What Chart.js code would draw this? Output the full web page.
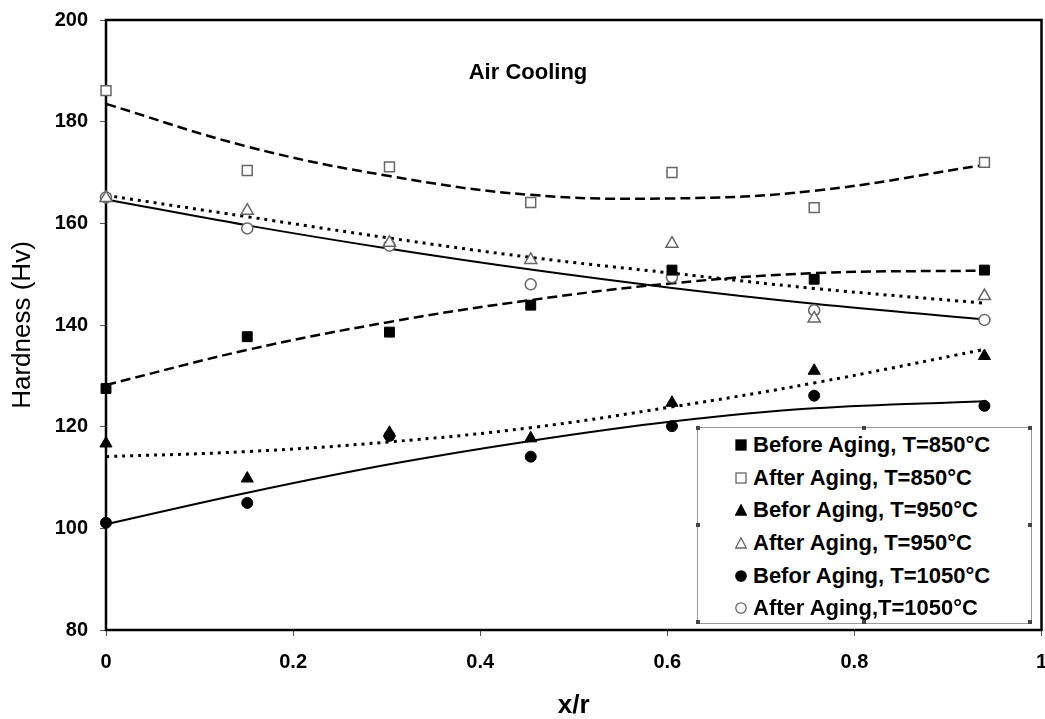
<!DOCTYPE html>
<html>
<head>
<meta charset="utf-8">
<script src="https://cdn.jsdelivr.net/npm/chart.js@4/dist/chart.umd.min.js"></script>
<style>
  html, body { margin: 0; padding: 0; background: #fff; }
  #wrap { position: relative; width: 1045px; height: 719px; overflow: hidden;
          font-family: 'Liberation Sans', Arial, sans-serif; }
  #box { position: absolute; left: 0; top: 0; width: 1050px; height: 719px; }
  #note { position: absolute; left: 400px; top: 61px; width: 256px; text-align: center;
          font-weight: bold; font-size: 22px; line-height: 22px; color: #000; }
  #legend { position: absolute; left: 697px; top: 427px; width: 335px; height: 197px;
            border: 1.5px solid #9a9a9a; box-sizing: border-box; background: #fff; }
  .handle { position: absolute; width: 4px; height: 4px; background: #444; }
  .row { position: absolute; left: 0; height: 32.6px; line-height: 32.6px; white-space: nowrap;
         font-weight: bold; font-size: 22px; color: #000; }
  .row svg { position: absolute; left: 37px; top: 10px; }
  .row span { position: absolute; left: 55px; }
</style>
</head>
<body>
<div id="wrap">
  <div id="box"><canvas id="chart"></canvas></div>
  <div id="note">Air Cooling</div>
  <div id="legend"></div>
</div>
<script>
const xr = [0, 0.151, 0.303, 0.454, 0.605, 0.757, 0.939];
const xTicks = [0, 0.2, 0.4, 0.6, 0.8, 1];
const yTicks = [80, 100, 120, 140, 160, 180, 200];

// measured hardness
const before850 = [127.5, 137.7, 138.6, 143.9, 150.8, 149.0, 150.8];
const after850 = [186.1, 170.4, 171.1, 164.1, 170.0, 163.1, 172.0];
const before950 = [116.7, 109.8, 118.8, 117.7, 124.7, 131.0, 133.9];
const after950 = [165.0, 162.5, 156.2, 152.8, 156.0, 141.3, 145.7];
const before1050 = [101.1, 105.0, 118.2, 114.1, 120.1, 126.1, 124.1];
const after1050 = [165.1, 159.0, 155.6, 148.0, 149.4, 142.9, 141.0];

// trend lines at the same x/r
const trendBefore850 = [128.2, 135.1, 140.6, 144.9, 148.2, 150.2, 150.7];
const trendAfter850 = [183.5, 175.1, 169.3, 165.6, 164.9, 166.4, 171.5];
const trendBefore950 = [114.1, 115.1, 117.0, 119.8, 123.9, 128.6, 135.2];
const trendAfter950 = [165.5, 161.3, 157.1, 153.3, 150.2, 147.2, 144.3];
const trendBefore1050 = [100.8, 107.0, 112.6, 117.2, 121.0, 123.6, 125.0];
const trendAfter1050 = [164.7, 159.6, 155.0, 150.9, 147.3, 144.2, 141.1];

const seriesNames = [
  'Before Aging, T=850°C',
  'After Aging, T=850°C',
  'Befor Aging, T=950°C',
  'After Aging, T=950°C',
  'Befor Aging, T=1050°C',
  'After Aging,T=1050°C'
];

const pts = ys => ys.map((y, i) => ({ x: xr[i], y: y }));

const markers = [
  { style: 'rect', r: 7, fill: '#000', stroke: '#000' },
  { style: 'rect', r: 7, fill: '#fff', stroke: '#666' },
  { style: 'triangle', r: 7, fill: '#000', stroke: '#000' },
  { style: 'triangle', r: 7, fill: '#fff', stroke: '#666' },
  { style: 'circle', r: 5.5, fill: '#000', stroke: '#000' },
  { style: 'circle', r: 5.5, fill: '#fff', stroke: '#666' }
];
const values = [before850, after850, before950, after950, before1050, after1050];
const trends = [trendBefore850, trendAfter850, trendBefore950, trendAfter950, trendBefore1050, trendAfter1050];
const dashes = [[10, 5], [10, 5], [3, 5], [3, 5], [], []];
const widths = [2.5, 2.5, 3, 3, 2, 2];

const datasets = [];
trends.forEach((t, i) => {
  datasets.push({
    label: seriesNames[i] + ' trend',
    data: pts(t),
    showLine: true,
    tension: 0.4,
    borderColor: '#000',
    borderWidth: widths[i],
    borderDash: dashes[i],
    pointRadius: 0,
    clip: false,
    order: 1
  });
});
values.forEach((v, i) => {
  const m = markers[i];
  datasets.push({
    label: seriesNames[i],
    data: pts(v),
    pointStyle: m.style,
    pointRadius: m.r,
    pointBackgroundColor: m.fill,
    pointBorderColor: m.stroke,
    pointBorderWidth: m.fill === '#fff' ? 1.5 : 1,
    clip: false,
    order: 0
  });
});

// plot frame on all four sides
const frame = {
  id: 'frame',
  beforeDatasetsDraw(chart) {
    const a = chart.chartArea, ctx = chart.ctx;
    ctx.save();
    ctx.strokeStyle = '#000';
    ctx.lineWidth = 2.5;
    ctx.strokeRect(a.left, a.top, a.right - a.left, a.bottom - a.top);
    ctx.restore();
  }
};

Chart.defaults.font.family = "'Liberation Sans', Arial, sans-serif";
Chart.defaults.color = '#000';

new Chart(document.getElementById('chart'), {
  type: 'scatter',
  data: { datasets: datasets },
  plugins: [frame],
  options: {
    responsive: true,
    maintainAspectRatio: false,
    animation: false,
    layout: { padding: { top: 20, right: 7, left: 0, bottom: 0 } },
    plugins: { legend: { display: false }, tooltip: { enabled: false } },
    scales: {
      x: {
        type: 'linear',
        min: xTicks[0],
        max: xTicks[xTicks.length - 1],
        afterBuildTicks: s => { s.ticks = xTicks.map(v => ({ value: v })); },
        afterFit: s => { s.height = 89; s.paddingLeft = 0; s.paddingRight = 0; },
        grid: { drawOnChartArea: false, tickLength: 6, color: '#555', lineWidth: 1 },
        border: { display: false },
        ticks: {
          font: { size: 20, weight: 'bold' },
          padding: 14,
          maxRotation: 0,
          callback: v => String(Math.round(v * 10) / 10)
        },
        title: { display: true, text: 'x/r', font: { size: 26, weight: 'bold', lineHeight: 1 }, padding: { top: 0, bottom: 0 } }
      },
      y: {
        type: 'linear',
        min: yTicks[0],
        max: yTicks[yTicks.length - 1],
        afterBuildTicks: s => { s.ticks = yTicks.map(v => ({ value: v })); },
        afterFit: s => { s.width = 106; s.paddingTop = 0; s.paddingBottom = 0; },
        grid: { drawOnChartArea: false, tickLength: 6, color: '#555', lineWidth: 1 },
        border: { display: false },
        ticks: { font: { size: 20, weight: 'bold' }, padding: 12 },
        title: { display: true, text: 'Hardness (Hv)', font: { size: 26, weight: 'normal' }, padding: { top: 7, bottom: 0 } }
      }
    }
  }
});

// legend box with selection handles, as in the source figure
const legend = document.getElementById('legend');
[[0, 0], [0.5, 0], [1, 0], [0, 0.5], [1, 0.5], [0, 1], [0.5, 1], [1, 1]].forEach(p => {
  const h = document.createElement('div');
  h.className = 'handle';
  h.style.left = (p[0] * 332 - 2.5) + 'px';
  h.style.top = (p[1] * 194 - 2.5) + 'px';
  legend.appendChild(h);
});
const shapes = {
  rect: (f, s) => `<rect x="1" y="1" width="10" height="10" fill="${f}" stroke="${s}" stroke-width="1.3"/>`,
  triangle: (f, s) => `<polygon points="6,0.8 11.3,11 0.7,11" fill="${f}" stroke="${s}" stroke-width="1.3"/>`,
  circle: (f, s) => `<circle cx="6" cy="6" r="5.2" fill="${f}" stroke="${s}" stroke-width="1.3"/>`
};
seriesNames.forEach((name, i) => {
  const m = markers[i];
  const row = document.createElement('div');
  row.className = 'row';
  row.style.top = (1.2 + 32.6 * i) + 'px';
  row.innerHTML = `<svg width="12" height="12" viewBox="0 0 12 12">${shapes[m.style](m.fill, m.stroke)}</svg><span>${name}</span>`;
  legend.appendChild(row);
});
</script>
</body>
</html>
